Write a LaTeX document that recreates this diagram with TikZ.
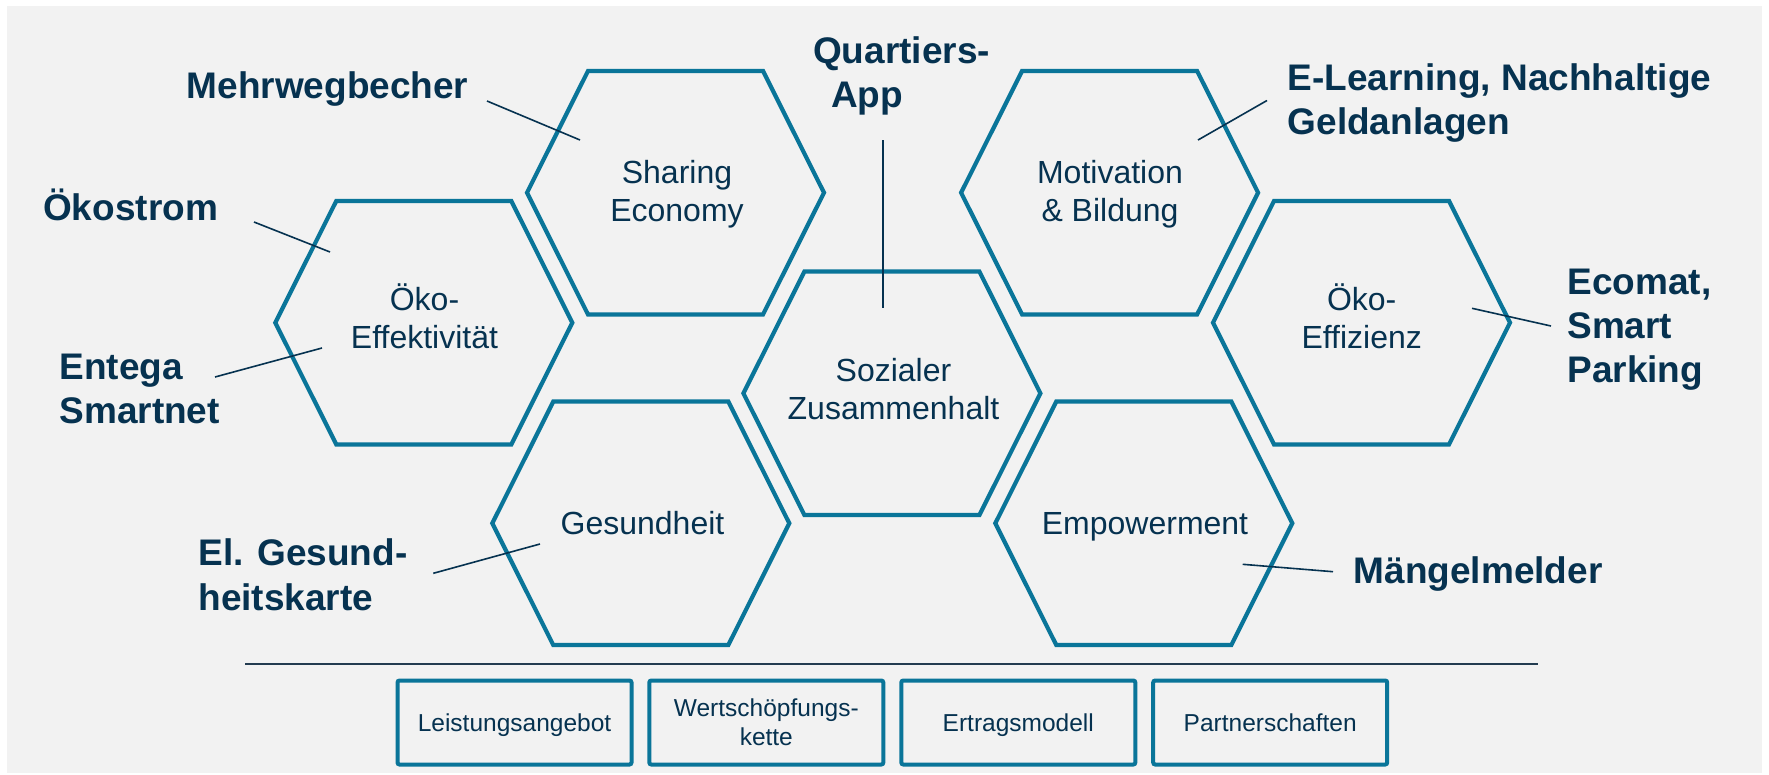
\documentclass[tikz,border=0pt]{standalone}
\usepackage{fontspec}
\setmainfont{Liberation Sans}
\definecolor{hexblue}{RGB}{10,117,153}
\definecolor{navy}{RGB}{6,50,80}
\definecolor{panel}{RGB}{242,242,242}
\definecolor{rulecol}{RGB}{35,60,80}
\newcommand\cellsc[1]{\begin{tabular}[t]{@{}c@{}}#1\end{tabular}}
\newcommand\cellsl[1]{\begin{tabular}[t]{@{}l@{}}#1\end{tabular}}
\begin{document}
\begin{tikzpicture}[x=1pt,y=-1pt,
  hexline/.style={draw=hexblue,line width=4.2pt},
  hexa/.pic={\path[hexline] (-148.5,0) -- (-87.5,-121.75) -- (87.5,-121.75) -- (148.5,0) -- (87.5,121.75) -- (-87.5,121.75) -- cycle;},
  hextext/.style={anchor=base,inner sep=0pt,text=navy,font=\fontsize{32}{38}\selectfont},
  tag/.style={anchor=base west,inner sep=0pt,text=navy,font=\bfseries\fontsize{37}{44.3}\selectfont},
  leader/.style={draw=navy,line width=1.6pt},
  rulestyle/.style={draw=rulecol,line width=2pt},
  boxstyle/.style={draw=hexblue,line width=4pt,rounded corners=2pt,minimum width=234pt,minimum height=84pt,inner sep=0pt,text=navy,font=\fontsize{24.5}{29}\selectfont,anchor=center,text height=20pt,text depth=1.6pt},
]
\useasboundingbox (0,0) rectangle (1769,774);
\fill[white] (0,0) rectangle (1769,774);
\fill[panel] (7,6) rectangle (1762,773);

% hexagons
\pic at (675.5,192.7) {hexa};
\pic at (423.8,322.7) {hexa};
\pic at (891.9,393.3) {hexa};
\pic at (640.8,523.3) {hexa};
\pic at (1109.6,192.7) {hexa};
\pic at (1361.5,322.7) {hexa};
\pic at (1143.8,523.3) {hexa};

% hexagon texts
\node[hextext] (tSharing) at (677,183) {\cellsc{Sharing\\Economy}};
\node[hextext] (tOkoEff) at (424.5,310) {\cellsc{Öko-\\Effektivität}};
\node[hextext] (tSozial) at (893.5,381.7) {\cellsc{Sozialer\\Zusammenhalt}};
\node[hextext] (tGes) at (642.5,534) {Gesundheit};
\node[hextext] (tMot) at (1110,183.3) {\cellsc{Motivation\\\& Bildung}};
\node[hextext] (tOkoEffz) at (1361.7,310.5) {\cellsc{Öko-\\Effizienz}};
\node[hextext] (tEmp) at (1145,534) {Empowerment};

% outer labels
\node[tag] (lMehr) at (186.5,98.3) {Mehrwegbecher};
\node[tag] (lQuart) at (813,63.3) {\cellsl{Quartiers-\\\hspace*{18pt}App}};
\node[tag] (lOko) at (43,220.7) {Ökostrom};
\node[tag] (lEntega) at (59.3,379.3) {\cellsl{Entega\\Smartnet}};
\node[tag] (lElearn) at (1287.5,90.3) {\cellsl{E-Learning, Nachhaltige\\Geldanlagen}};
\node[tag] (lEcomat) at (1567.2,294.3) {\cellsl{Ecomat,\\Smart\\Parking}};
\node[tag] (lGes) at (198.2,565.7) {\cellsl{El. Gesund-\\heitskarte}};
\node[tag] (lMaengel) at (1353.5,583.3) {Mängelmelder};

% leader lines
\coordinate (mA) at (487,101);    \coordinate (mB) at (580,140);
\coordinate (oA) at (254,222);    \coordinate (oB) at (330,252);
\coordinate (eA) at (215,377);    \coordinate (eB) at (322,348);
\coordinate (qA) at (883,140);    \coordinate (qB) at (883,308);
\coordinate (lA) at (1267,100.5); \coordinate (lB) at (1198,140);
\coordinate (cA) at (1472,308.3); \coordinate (cB) at (1551,326);
\coordinate (gA) at (433.3,573.3);\coordinate (gB) at (540,544);
\coordinate (kA) at (1242.7,564.3);\coordinate (kB) at (1333,571.7);
\draw[leader] (mA) -- (mB);
\draw[leader] (oA) -- (oB);
\draw[leader] (eA) -- (eB);
\draw[leader] (qA) -- (qB);
\draw[leader] (lA) -- (lB);
\draw[leader] (cA) -- (cB);
\draw[leader] (gA) -- (gB);
\draw[leader] (kA) -- (kB);

% bottom rule
\coordinate (rL) at (245,664);
\coordinate (rR) at (1537.6,664);
\draw[rulestyle] (rL) -- (rR);

% bottom boxes
\node[boxstyle] (b1) at (514.5,722.5) {Leistungsangebot};
\node[boxstyle,text depth=33pt] (b2) at (766.3,722.5) {\cellsc{Wertschöpfungs-\\kette}};
\node[boxstyle] (b3) at (1018.3,722.5) {Ertragsmodell};
\node[boxstyle] (b4) at (1270.2,722.5) {Partnerschaften};
\end{tikzpicture}
\end{document}
